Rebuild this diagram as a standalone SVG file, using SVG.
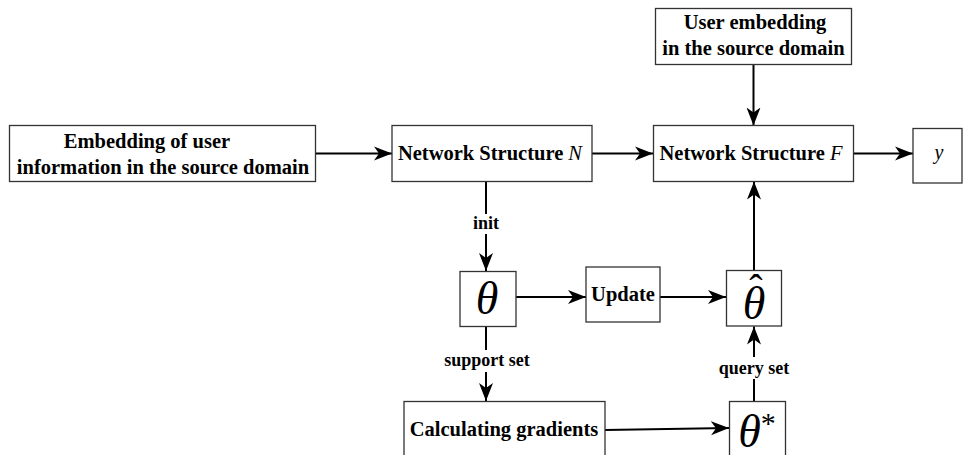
<svg xmlns="http://www.w3.org/2000/svg" width="963" height="455" viewBox="0 0 963 455">
<style>
.box{fill:#fff;stroke:#333;stroke-width:1.3}
.t{font-family:"Liberation Serif","Times New Roman",serif;font-weight:bold;font-size:20.5px;fill:#000;text-anchor:middle}
.lbl{font-family:"Liberation Serif","Times New Roman",serif;font-weight:bold;font-size:18px;fill:#000;text-anchor:middle}
.sym{font-family:"Liberation Serif","Times New Roman",serif;font-style:italic;font-size:46px;fill:#000;text-anchor:middle}
.c{stroke:#000;stroke-width:2;fill:none;marker-end:url(#ah)}
.bg{fill:#fff}
</style>
<defs>
<marker id="ah" markerUnits="userSpaceOnUse" markerWidth="20" markerHeight="16" refX="18" refY="8" orient="auto">
<path d="M18,8 L0,1 L5,8 L0,15 Z" fill="#000"/>
</marker>
</defs>
<g id="connectors">
<line class="c" x1="315.5" y1="153.5" x2="392" y2="153.5"/>
<line class="c" x1="592" y1="153.5" x2="653" y2="153.5"/>
<line class="c" x1="854" y1="153.5" x2="913" y2="153.5"/>
<line class="c" x1="753.5" y1="64" x2="753.5" y2="125.5"/>
<line class="c" x1="486" y1="181" x2="486" y2="271"/>
<rect class="bg" x="468" y="214" width="36" height="20"/>
<text class="lbl" x="486" y="229">init</text>
<line class="c" x1="516" y1="297" x2="586" y2="297"/>
<line class="c" x1="660" y1="297" x2="726" y2="297"/>
<line class="c" x1="754" y1="270" x2="754" y2="181.5"/>
<line class="c" x1="486" y1="327" x2="486" y2="401"/>
<rect class="bg" x="443" y="350" width="88" height="22"/>
<text class="lbl" x="487" y="366">support set</text>
<line class="c" x1="605" y1="430" x2="729" y2="428"/>
<line class="c" x1="754" y1="401" x2="754" y2="326.5"/>
<rect class="bg" x="717" y="357" width="74" height="22"/>
<text class="lbl" x="754" y="374">query set</text>
</g>
<g id="node-embedding">
<rect class="box" x="9.5" y="125.5" width="306" height="56"/>
<text class="t" x="147" y="147.5">Embedding of user</text>
<text class="t" x="163" y="173.5">information in the source domain</text>
</g>
<g id="node-user">
<rect class="box" x="655.5" y="8.5" width="196" height="56"/>
<text class="t" x="755" y="28.5">User embedding</text>
<text class="t" x="753.5" y="54.5">in the source domain</text>
</g>
<g id="node-N">
<rect class="box" x="392" y="125.5" width="200" height="56"/>
<text class="t" x="490" y="160">Network Structure <tspan font-style="italic" font-weight="normal">N</tspan></text>
</g>
<g id="node-F">
<rect class="box" x="653.5" y="125.5" width="200" height="56"/>
<text class="t" x="751" y="160">Network Structure <tspan font-style="italic" font-weight="normal">F</tspan></text>
</g>
<g id="node-y">
<rect class="box" x="913" y="128.5" width="49" height="54.5"/>
<text x="939" y="159" font-family="Liberation Serif, serif" font-style="italic" font-size="20" text-anchor="middle">y</text>
</g>
<g id="node-theta">
<rect class="box" x="460" y="271.5" width="56" height="55"/>
<text class="sym" x="487" y="314">θ</text>
</g>
<g id="node-update">
<rect class="box" x="586" y="267" width="74" height="55"/>
<text class="t" x="623" y="301">Update</text>
</g>
<g id="node-thetahat">
<rect class="box" x="726.5" y="270.5" width="55" height="55.5"/>
<text class="sym" x="754" y="319">θ</text>
<text x="756" y="302" font-family="Liberation Serif, serif" font-size="40" text-anchor="middle">ˆ</text>
</g>
<g id="node-calc">
<rect class="box" x="404" y="401.5" width="201" height="60"/>
<text class="t" x="504" y="436">Calculating gradients</text>
</g>
<g id="node-thetastar">
<rect class="box" x="729.5" y="401.5" width="56" height="60"/>
<text class="sym" x="757" y="447">θ<tspan font-style="normal" font-size="30" dy="-14">*</tspan></text>
</g>
</svg>
